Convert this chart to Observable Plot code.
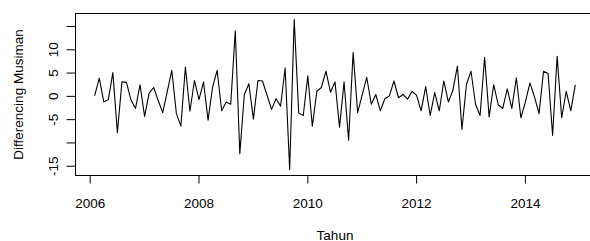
<!DOCTYPE html>
<html>
<head>
<meta charset="utf-8">
<script src="https://cdn.jsdelivr.net/npm/d3@7"></script>
<script src="https://cdn.jsdelivr.net/npm/@observablehq/plot@0.6"></script>
<style>
  html, body { margin: 0; padding: 0; background: white; overflow: hidden; }
  #chart { width: 590px; height: 241px; overflow: hidden; }
  #chart svg { max-width: none !important; width: 600px !important; height: 241px !important; }
</style>
</head>
<body>
<div id="chart"></div>
<script>
// Monthly seasonal-differenced series, Feb 2006 .. Dec 2014
const startYear = 2006;
const startMonth = 2;
const values = [
  0.2, 3.9, -1.2, -0.7, 5.1, -7.8, 3.1, 3.0, -0.8, -2.6, 2.5, -4.3,
  0.7, 1.9, -0.9, -3.5, 1.0, 5.6, -3.6, -6.4, 6.3, -3.2, 3.4, -0.7,
  3.1, -5.1, 2.0, 5.6, -3.1, -1.2, -1.7, 14.1, -12.3, 0.4, 2.7, -4.9,
  3.4, 3.3, 0.3, -2.8, -0.5, -2.1, 6.1, -15.7, 16.5, -3.6, -4.1, 4.4,
  -6.4, 1.1, 1.9, 5.4, 0.9, 3.1, -6.6, 3.1, -9.4, 9.4, -3.5, 0.3,
  4.1, -1.7, 0.4, -3.1, -0.5, 0.1, 3.3, -0.3, 0.4, -0.6, 1.1, 0.2,
  -3.1, 2.1, -4.1, 0.8, -3.1, 3.3, -1.2, 1.3, 6.5, -7.1, 2.6, 5.4,
  -1.7, -4.1, 8.4, -4.4, 2.5, -1.8, -2.6, 1.6, -2.6, 4.0, -4.6, -1.2,
  2.9, -0.1, -3.7, 5.4, 4.9, -8.4, 8.6, -4.6, 1.1, -3.1, 2.4
];
const xTicks = [2006, 2008, 2010, 2012, 2014];
const yTicks = [-15, -10, -5, 0, 5, 10, 15];
const yTickLabels = ["-15", "", "-5", "0", "5", "10", ""];
const xTitle = "Tahun";
const yTitle = "Differencing Musiman";

const data = values.map((v, i) => ({ t: startYear + (startMonth - 1 + i) / 12, v }));

// R-style 4% padding of the data range
function pad(ext) { const s = ext[1] - ext[0]; return [ext[0] - 0.04 * s, ext[1] + 0.04 * s]; }
const xDom = pad(d3.extent(data, d => d.t));
const yDom = pad(d3.extent(data, d => d.v));

const yLab = yTicks.map((y, i) => ({ y, label: yTickLabels[i] })).filter(d => d.label !== "");

const chart = Plot.plot({
  width: 600,
  height: 241,
  marginLeft: 75,
  marginRight: 6,
  marginTop: 13,
  marginBottom: 66,
  style: { fontFamily: "'Liberation Sans', Arial, Helvetica, sans-serif", fontSize: "13.5px", background: "white", color: "black", overflow: "visible" },
  x: { domain: xDom },
  y: { domain: yDom },
  marks: [
    Plot.axisX({ ticks: xTicks, tickFormat: d => String(d), tickSize: 8.5, tickPadding: 14, label: null, fontSize: 13.5 }),
    Plot.axisY({ ticks: yTicks, tickFormat: () => "", tickSize: 8.5, label: null }),
    Plot.text(yLab, { y: "y", text: "label", frameAnchor: "left", dx: -17.5, rotate: -90, textAnchor: "middle", lineAnchor: "bottom", fontSize: 13.5, fill: "black" }),
    Plot.text([yTitle], { frameAnchor: "left", dx: -52.5, rotate: -90, textAnchor: "middle", lineAnchor: "bottom", fontSize: 13.5, fill: "black" }),
    Plot.text([xTitle], { frameAnchor: "bottom", dy: 64, textAnchor: "middle", lineAnchor: "bottom", fontSize: 13.5, fill: "black" }),
    Plot.frame({ stroke: "black", strokeWidth: 1 }),
    Plot.line(data, { x: "t", y: "v", stroke: "black", strokeWidth: 1.1, strokeLinejoin: "round" })
  ]
});
document.getElementById("chart").appendChild(chart);
</script>
</body>
</html>
